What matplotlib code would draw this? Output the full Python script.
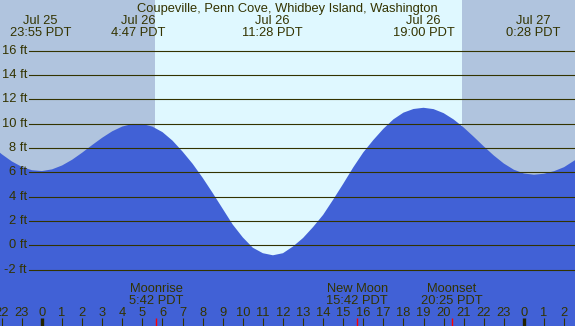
import matplotlib
matplotlib.use("Agg")
import matplotlib.pyplot as plt

plt.rcParams['font.family'] = ['Liberation Sans', 'DejaVu Sans']

# tide curve (hours from Jul 26 0:00 PDT, feet)
tide_hours = [-2.5, -2.0, -1.5, -1.0, -0.5, 0.0, 0.5, 1.0, 1.5, 2.0,
              2.5, 3.0, 3.5, 4.0, 4.5, 5.0, 5.5, 6.0, 6.5, 7.0,
              7.5, 8.0, 8.5, 9.0, 9.5, 10.0, 10.5, 11.0, 11.5, 12.0,
              12.5, 13.0, 13.5, 14.0, 14.5, 15.0, 15.5, 16.0, 16.5, 17.0,
              17.5, 18.0, 18.5, 19.0, 19.5, 20.0, 20.5, 21.0, 21.5, 22.0,
              22.5, 23.0, 23.5, 24.0, 24.5, 25.0, 25.5, 26.0, 26.5, 27.0]
tide_ft = [8.17, 7.48, 6.89, 6.44, 6.17, 6.10, 6.24, 6.56, 7.03, 7.61,
           8.24, 8.84, 9.37, 9.76, 9.97, 9.97, 9.75, 9.30, 8.60, 7.70,
           6.70, 5.55, 4.30, 3.00, 1.70, 0.65, -0.20, -0.65, -0.82, -0.65,
           -0.10, 0.60, 1.50, 2.50, 3.75, 5.05, 6.40, 7.63, 8.65, 9.57,
           10.35, 10.90, 11.20, 11.30, 11.19, 10.86, 10.34, 9.68, 8.92, 8.13,
           7.38, 6.72, 6.21, 5.90, 5.80, 5.88, 6.09, 6.42, 6.95, 7.45]

# highs and lows
ext_hours = [-0.083, 4.783, 11.467, 19.0, 24.467]
ext_dates = ['Jul 25', 'Jul 26', 'Jul 26', 'Jul 26', 'Jul 27']
ext_times = ['23:55 PDT', '4:47 PDT', '11:28 PDT', '19:00 PDT', '0:28 PDT']

# moon events
moon_hours = [5.7, 15.7, 20.417]
moon_names = ['Moonrise', 'New Moon', 'Moonset']
moon_times = ['5:42 PDT', '15:42 PDT', '20:25 PDT']

sunrise = 5.63
sunset = 20.92

levels = [-2, 0, 2, 4, 6, 8, 10, 12, 14, 16]
tick_hours = list(range(-2, 27))

title = 'Coupeville, Penn Cove, Whidbey Island, Washington'

night_col = '#b0c4de'
day_col = '#dff8ff'
water_col = '#4161d6'
ink = '#333300'
fs = 9.3

W, H = 575, 326
fig = plt.figure(figsize=(W / 100, H / 100), dpi=100)
ax = fig.add_axes([0, 0, 1, 1])
ax.set_axis_off()

# pixel mapping: hour 0 at x=42, 20.08 px/hour; 0 ft at y=245.3, 12.17 px/ft
px_h = 20.08
x0 = 42
px_ft = 12.17
y0 = 245.3
ax.set_xlim(-x0 / px_h, (W - x0) / px_h)
ax.set_ylim(-(H - y0) / px_ft, y0 / px_ft)

xmin, xmax = ax.get_xlim()
ax.axvspan(xmin, sunrise, color=night_col, lw=0, zorder=0)
ax.axvspan(sunrise, sunset, color=day_col, lw=0, zorder=0)
ax.axvspan(sunset, xmax, color=night_col, lw=0, zorder=0)

ax.fill_between(tide_hours, -20, tide_ft, color=water_col, lw=0, zorder=1)

for lv in levels:
    ax.axhline(lv, xmin=29 / W, xmax=1, color=ink, lw=0.8, zorder=2)
    ax.text(27 / W, lv, '%d ft' % lv, transform=ax.get_yaxis_transform(),
            ha='right', va='center', fontsize=fs, color=ink)

def fy(py):
    # pixel row from top -> axes fraction
    return 1 - py / H

ax.text(0.5, fy(11.7), title, transform=ax.transAxes, ha='center',
        va='baseline', fontsize=fs, color=ink)

xt = ax.get_xaxis_transform()
for h, d, t in zip(ext_hours, ext_dates, ext_times):
    ax.text(h, fy(24), d, transform=xt, ha='center', va='baseline',
            fontsize=fs, color=ink)
    ax.text(h, fy(35.7), t, transform=xt, ha='center', va='baseline',
            fontsize=fs, color=ink)

for h, n, t in zip(moon_hours, moon_names, moon_times):
    ax.text(h, fy(291.7), n, transform=xt, ha='center', va='baseline',
            fontsize=fs, color=ink)
    ax.text(h, fy(304), t, transform=xt, ha='center', va='baseline',
            fontsize=fs, color=ink)
    ax.vlines(h, 0, fy(317.7), transform=xt, color='red', lw=1, zorder=3)

for h in tick_hours:
    ax.text(h, fy(316), str(h % 24), transform=xt, ha='center',
            va='baseline', fontsize=fs, color=ink)
    if h % 24 == 0:
        ax.vlines(h, 0, fy(318.3), transform=xt, color='#222200', lw=2.4,
                  zorder=3)
    else:
        ax.vlines(h, 0, fy(318.3), transform=xt, color=ink, lw=0.8,
                  zorder=3)

fig.savefig('out.png', dpi=100)
